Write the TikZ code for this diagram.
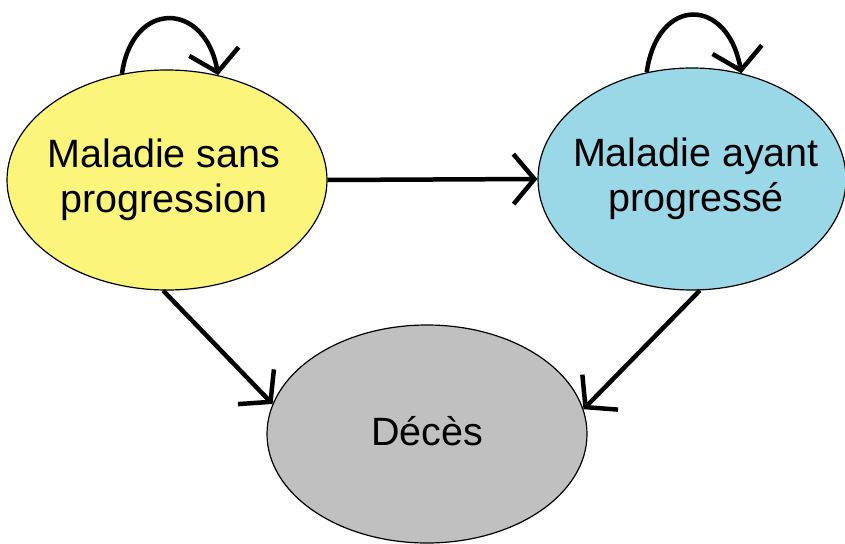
\documentclass[tikz,border=0pt]{standalone}
\usepackage{fontspec}
\setmainfont{Liberation Sans}
\usetikzlibrary{shapes.geometric,arrows.meta}
\definecolor{stateyellow}{RGB}{251,245,124}
\definecolor{stateblue}{RGB}{154,216,232}
\definecolor{stategray}{RGB}{192,192,192}
\tikzset{
  state/.style={ellipse,draw,line width=1.2pt,inner sep=0pt},
  statetext/.style={align=center,font=\fontsize{39.5}{45}\selectfont},
  trans/.style={-{Straight Barb[length=21pt,width=50pt]},line width=4.5pt}
}
\begin{document}
\begin{tikzpicture}[x=1pt,y=-1pt]
    \useasboundingbox (0,0) rectangle (845,543);
    % States
    \node[state,fill=stateyellow,minimum width=320pt,minimum height=220pt] (sansprog) at (167,180) {};
    \node[statetext] (sansprogtext) at ([xshift=-3pt]sansprog.center) {Maladie sans\\progression};
    \node[state,fill=stateblue,minimum width=308pt,minimum height=222pt] (prog) at (692,179) {};
    \node[statetext] (progtext) at ([xshift=4pt]prog.center) {Maladie ayant\\progressé};
    \node[state,fill=stategray,minimum width=320pt,minimum height=218pt] (deces) at (427,434) {};
    \node[statetext] (decestext) at ([yshift=3pt]deces.center) {Décès};
    
    % Self loops
    \draw[trans] (sansprog.113) to[out=82,in=100,looseness=2.0] (sansprog.64);
    \draw[trans] (prog.113) to[out=82,in=100,looseness=2.1] (prog.65);
    
    % Transitions
    \draw[trans] (sansprog.east) -- (prog.west);
    \draw[trans] (sansprog.268) -- (deces.169);
    \draw[trans] (prog.274) -- (deces.9);
\end{tikzpicture}
\end{document}
